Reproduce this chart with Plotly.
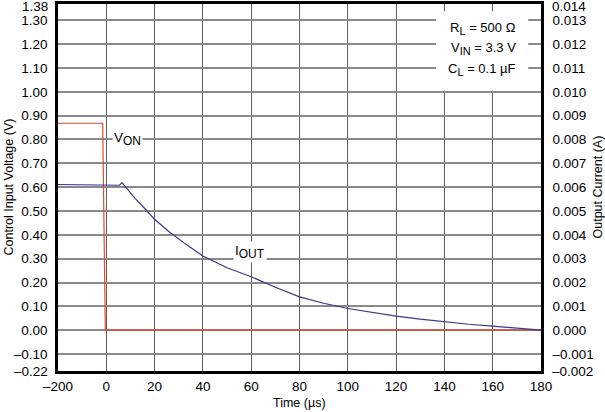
import plotly.graph_objects as go

# ---- data (time axis is broken: the left edge, drawn at -20, is labelled -200) ----
von_t = [-20, -1.5, -0.4, 180]
von_v = [0.868, 0.868, 0.0, 0.0]

iout_t = [-20, 4, 5.5, 6.5, 12, 16.5, 20, 26, 33, 40, 50, 60, 70, 80, 90,
          100, 110, 120, 130, 140, 150, 160, 170, 180]
iout_a = [0.00611, 0.00611, 0.00608, 0.00619, 0.00552, 0.00504, 0.00465, 0.00413,
          0.00360, 0.00311, 0.00262, 0.00224, 0.00180, 0.00140, 0.00113, 0.00091,
          0.00074, 0.00059, 0.00046, 0.00035, 0.00025, 0.00017, 0.00008, 0.0]

x_tickvals = [-20, 0, 20, 40, 60, 80, 100, 120, 140, 160, 180]
x_ticktext = ["–200", "0", "20", "40", "60", "80", "100", "120", "140", "160", "180"]

y_range = [-0.1712, 1.3682]
y_tickvals = [-0.1, 0.0, 0.1, 0.2, 0.3, 0.4, 0.5, 0.6, 0.7, 0.8, 0.9,
              1.0, 1.1, 1.2, 1.3]
y_ticktext = ["–0.10", "0.00", "0.10", "0.20", "0.30", "0.40", "0.50",
              "0.60", "0.70", "0.80", "0.90", "1.00", "1.10", "1.20", "1.30"]
y2_ticktext = ["–0.001", "0.000", "0.001", "0.002", "0.003", "0.004",
               "0.005", "0.006", "0.007", "0.008", "0.009", "0.010", "0.011",
               "0.012", "0.013"]
# labels printed at the top / bottom frame edges
y_edge_text = ["1.38", "–0.22"]
y2_edge_text = ["0.014", "–0.002"]

FONT = "Liberation Sans, Arial, sans-serif"
RED = "#e24a33"
BLUE = "#3a3690"


def sub(main, s, size):
    return f"{main}<sub><span style='font-size:{size}px'>{s}</span></sub>"


fig = go.Figure()
fig.add_trace(go.Scatter(x=von_t, y=von_v, mode="lines",
                         line=dict(color=RED, width=1.2), yaxis="y",
                         showlegend=False, hoverinfo="skip"))
fig.add_trace(go.Scatter(x=iout_t, y=iout_a, mode="lines",
                         line=dict(color=BLUE, width=1.2), yaxis="y2",
                         showlegend=False, hoverinfo="skip"))

fig.update_layout(
    width=605, height=412,
    margin=dict(l=58, r=64, t=4, b=41),
    paper_bgcolor="white", plot_bgcolor="white",
    font=dict(family=FONT, size=13, color="black"),
    xaxis=dict(range=[-20, 180], tickvals=x_tickvals, ticktext=x_ticktext,
               showgrid=True, gridcolor="#5e5e5e", gridwidth=1.2,
               showline=True, linecolor="black", linewidth=2.5, mirror=True,
               ticks="", ticklabelstandoff=1, zeroline=False, automargin=False,
               ticklabeloverflow="allow", tickfont=dict(size=13.5)),
    yaxis=dict(range=y_range, tickvals=y_tickvals, ticktext=y_ticktext,
               showgrid=True, gridcolor="#8a8a8a", gridwidth=1.6,
               showline=True, linecolor="black", linewidth=2.5, mirror=True,
               ticks="", ticklabelstandoff=5, zeroline=False, automargin=False,
               ticklabeloverflow="allow", tickfont=dict(size=13.5)),
    yaxis2=dict(range=[v / 100 for v in y_range],
                tickvals=[v / 100 for v in y_tickvals], ticktext=y2_ticktext,
                overlaying="y", side="right", showgrid=False, zeroline=False,
                showline=True, linecolor="black", linewidth=2.5, automargin=False,
                ticklabeloverflow="allow",
                ticks="", ticklabelstandoff=6, tickfont=dict(size=13.5)),
)

# edge labels of both value axes
for yp, txt_l, txt_r, ys in [(1, y_edge_text[0], y2_edge_text[0], -2),
                             (0, y_edge_text[1], y2_edge_text[1], 0)]:
    fig.add_annotation(x=0, y=yp, xref="paper", yref="paper", text=txt_l,
                       showarrow=False, xanchor="right", yanchor="middle",
                       xshift=-8, yshift=ys, font=dict(size=13.5))
    fig.add_annotation(x=1, y=yp, xref="paper", yref="paper", text=txt_r,
                       showarrow=False, xanchor="left", yanchor="middle",
                       xshift=9, yshift=ys, font=dict(size=13.5))

# white box behind the conditions text
fig.add_shape(type="rect", xref="x", yref="y", x0=136.5, x1=174.7, y0=1.004, y1=1.337,
              fillcolor="white", line=dict(width=0), layer="above")

for yv, txt in [(1.265, sub("R", "L", 11) + " = 500 Ω"),
                (1.18, sub("V", "IN", 11) + " = 3.3 V"),
                (1.095, sub("C", "L", 11) + " = 0.1 µF")]:
    fig.add_annotation(x=170.5, y=yv, xref="x", yref="y", text=txt, showarrow=False,
                       xanchor="right", yanchor="middle", font=dict(size=13))

fig.add_annotation(x=8.7, y=0.80, xref="x", yref="y", text=sub("V", "ON", 12),
                   showarrow=False, bgcolor="white", borderpad=1,
                   xanchor="center", yanchor="middle", font=dict(size=13.5))
fig.add_annotation(x=59.3, y=0.33, xref="x", yref="y", text=sub("I", "OUT", 12),
                   showarrow=False, bgcolor="white", borderpad=1,
                   xanchor="center", yanchor="middle", font=dict(size=13.5))

# axis titles
fig.add_annotation(x=0, y=0.5, xref="paper", yref="paper", xshift=-50,
                   text="Control Input Voltage (V)", textangle=-90, showarrow=False,
                   xanchor="center", yanchor="middle", font=dict(size=12.5))
fig.add_annotation(x=1, y=0.5, xref="paper", yref="paper", xshift=56,
                   text="Output Current (A)", textangle=-90, showarrow=False,
                   xanchor="center", yanchor="middle", font=dict(size=12.5))
fig.add_annotation(x=0.5, y=0, xref="paper", yref="paper", yshift=-32,
                   text="Time (µs)", showarrow=False,
                   xanchor="center", yanchor="middle", font=dict(size=12.5))

fig.write_html("out.html", config={"displayModeBar": False},
               post_script="document.body.style.margin='0';document.body.style.overflow='hidden';")
